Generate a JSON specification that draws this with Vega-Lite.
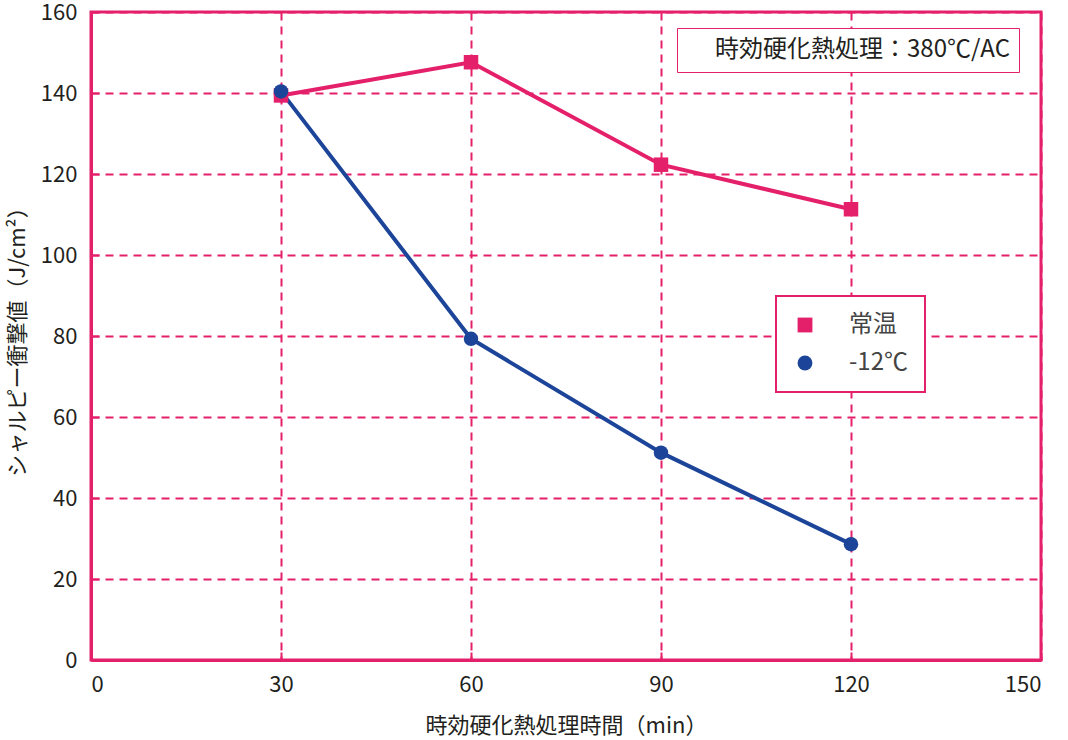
{
  "$schema": "https://vega.github.io/schema/vega-lite/v6.json",
  "width": 950,
  "height": 648,
  "autosize": {"type": "none"},
  "padding": {"left": 91, "top": 12, "right": 27, "bottom": 80},
  "background": "white",
  "layer": [
    {
      "data": {
        "values": [
          {"time": 30, "impact": 139.4, "series": "常温"},
          {"time": 60, "impact": 147.6, "series": "常温"},
          {"time": 90, "impact": 122.3, "series": "常温"},
          {"time": 120, "impact": 111.3, "series": "常温"},
          {"time": 30, "impact": 140.4, "series": "-12℃"},
          {"time": 60, "impact": 79.3, "series": "-12℃"},
          {"time": 90, "impact": 51.2, "series": "-12℃"},
          {"time": 120, "impact": 28.6, "series": "-12℃"}
        ]
      },
      "encoding": {
        "x": {
          "field": "time",
          "type": "quantitative",
          "scale": {"domain": [0, 150], "nice": false},
          "axis": {"values": [0, 30, 60, 90, 120, 150], "title": "時効硬化熱処理時間（min）", "titlePadding": 20}
        },
        "y": {
          "field": "impact",
          "type": "quantitative",
          "scale": {"domain": [0, 160], "nice": false},
          "axis": {"values": [0, 20, 40, 60, 80, 100, 120, 140, 160], "title": "シャルピー衝撃値（J/cm²）", "titlePadding": 11}
        },
        "color": {
          "field": "series",
          "type": "nominal",
          "scale": {"domain": ["常温", "-12℃"], "range": ["#e5206a", "#1c4599"]},
          "legend": {
            "title": null,
            "orient": "none",
            "legendX": 685,
            "legendY": 284,
            "strokeColor": "#e5206a",
            "fillColor": "white",
            "padding": 17,
            "symbolSize": 220,
            "labelFontSize": 24,
            "labelOffset": 32,
            "rowPadding": 14,
            "labelFont": "Noto Sans CJK JP",
            "labelColor": "#444444",
            "symbolStrokeWidth": 0,
            "encode": {"legend": {"update": {"strokeWidth": {"value": 2}}}}
          }
        },
        "shape": {
          "field": "series",
          "type": "nominal",
          "scale": {"domain": ["常温", "-12℃"], "range": ["square", "circle"]},
          "legend": null
        }
      },
      "layer": [
        {"mark": {"type": "line", "strokeWidth": 4}},
        {"mark": {"type": "point", "filled": true, "opacity": 1, "size": 210}}
      ]
    },
    {
      "data": {"values": [{"note": "時効硬化熱処理：380℃/AC"}]},
      "mark": {"type": "point", "opacity": 0},
      "encoding": {
        "fill": {
          "field": "note",
          "type": "nominal",
          "scale": {"range": ["transparent"]},
          "legend": {
            "title": null,
            "orient": "none",
            "legendX": 586,
            "legendY": 16,
            "strokeColor": "#e5206a",
            "fillColor": "white",
            "padding": 10,
            "symbolSize": 0,
            "symbolOpacity": 0,
            "labelOffset": 4,
            "labelFontSize": 24,
            "labelFont": "Noto Sans CJK JP",
            "labelColor": "#231f20",
            "labelLimit": 400,
            "encode": {"legend": {"update": {"strokeWidth": {"value": 2}}}}
          }
        }
      }
    }
  ],
  "config": {
    "view": {"stroke": "#e5206a", "strokeWidth": 3},
    "axis": {
      "domainColor": "#e5206a",
      "domainWidth": 3,
      "gridColor": "#e5206a",
      "gridDash": [8, 6],
      "gridWidth": 2,
      "gridOpacity": 1,
      "tickColor": "#e5206a",
      "tickWidth": 2,
      "tickSize": -8,
      "labelFont": "Noto Sans CJK JP",
      "labelFontSize": 22,
      "labelColor": "#231f20",
      "titleFont": "Noto Sans CJK JP",
      "titleFontSize": 22,
      "titleFontWeight": "normal",
      "titleColor": "#231f20"
    },
    "axisX": {"labelPadding": 22},
    "axisY": {"labelPadding": 22}
  }
}
